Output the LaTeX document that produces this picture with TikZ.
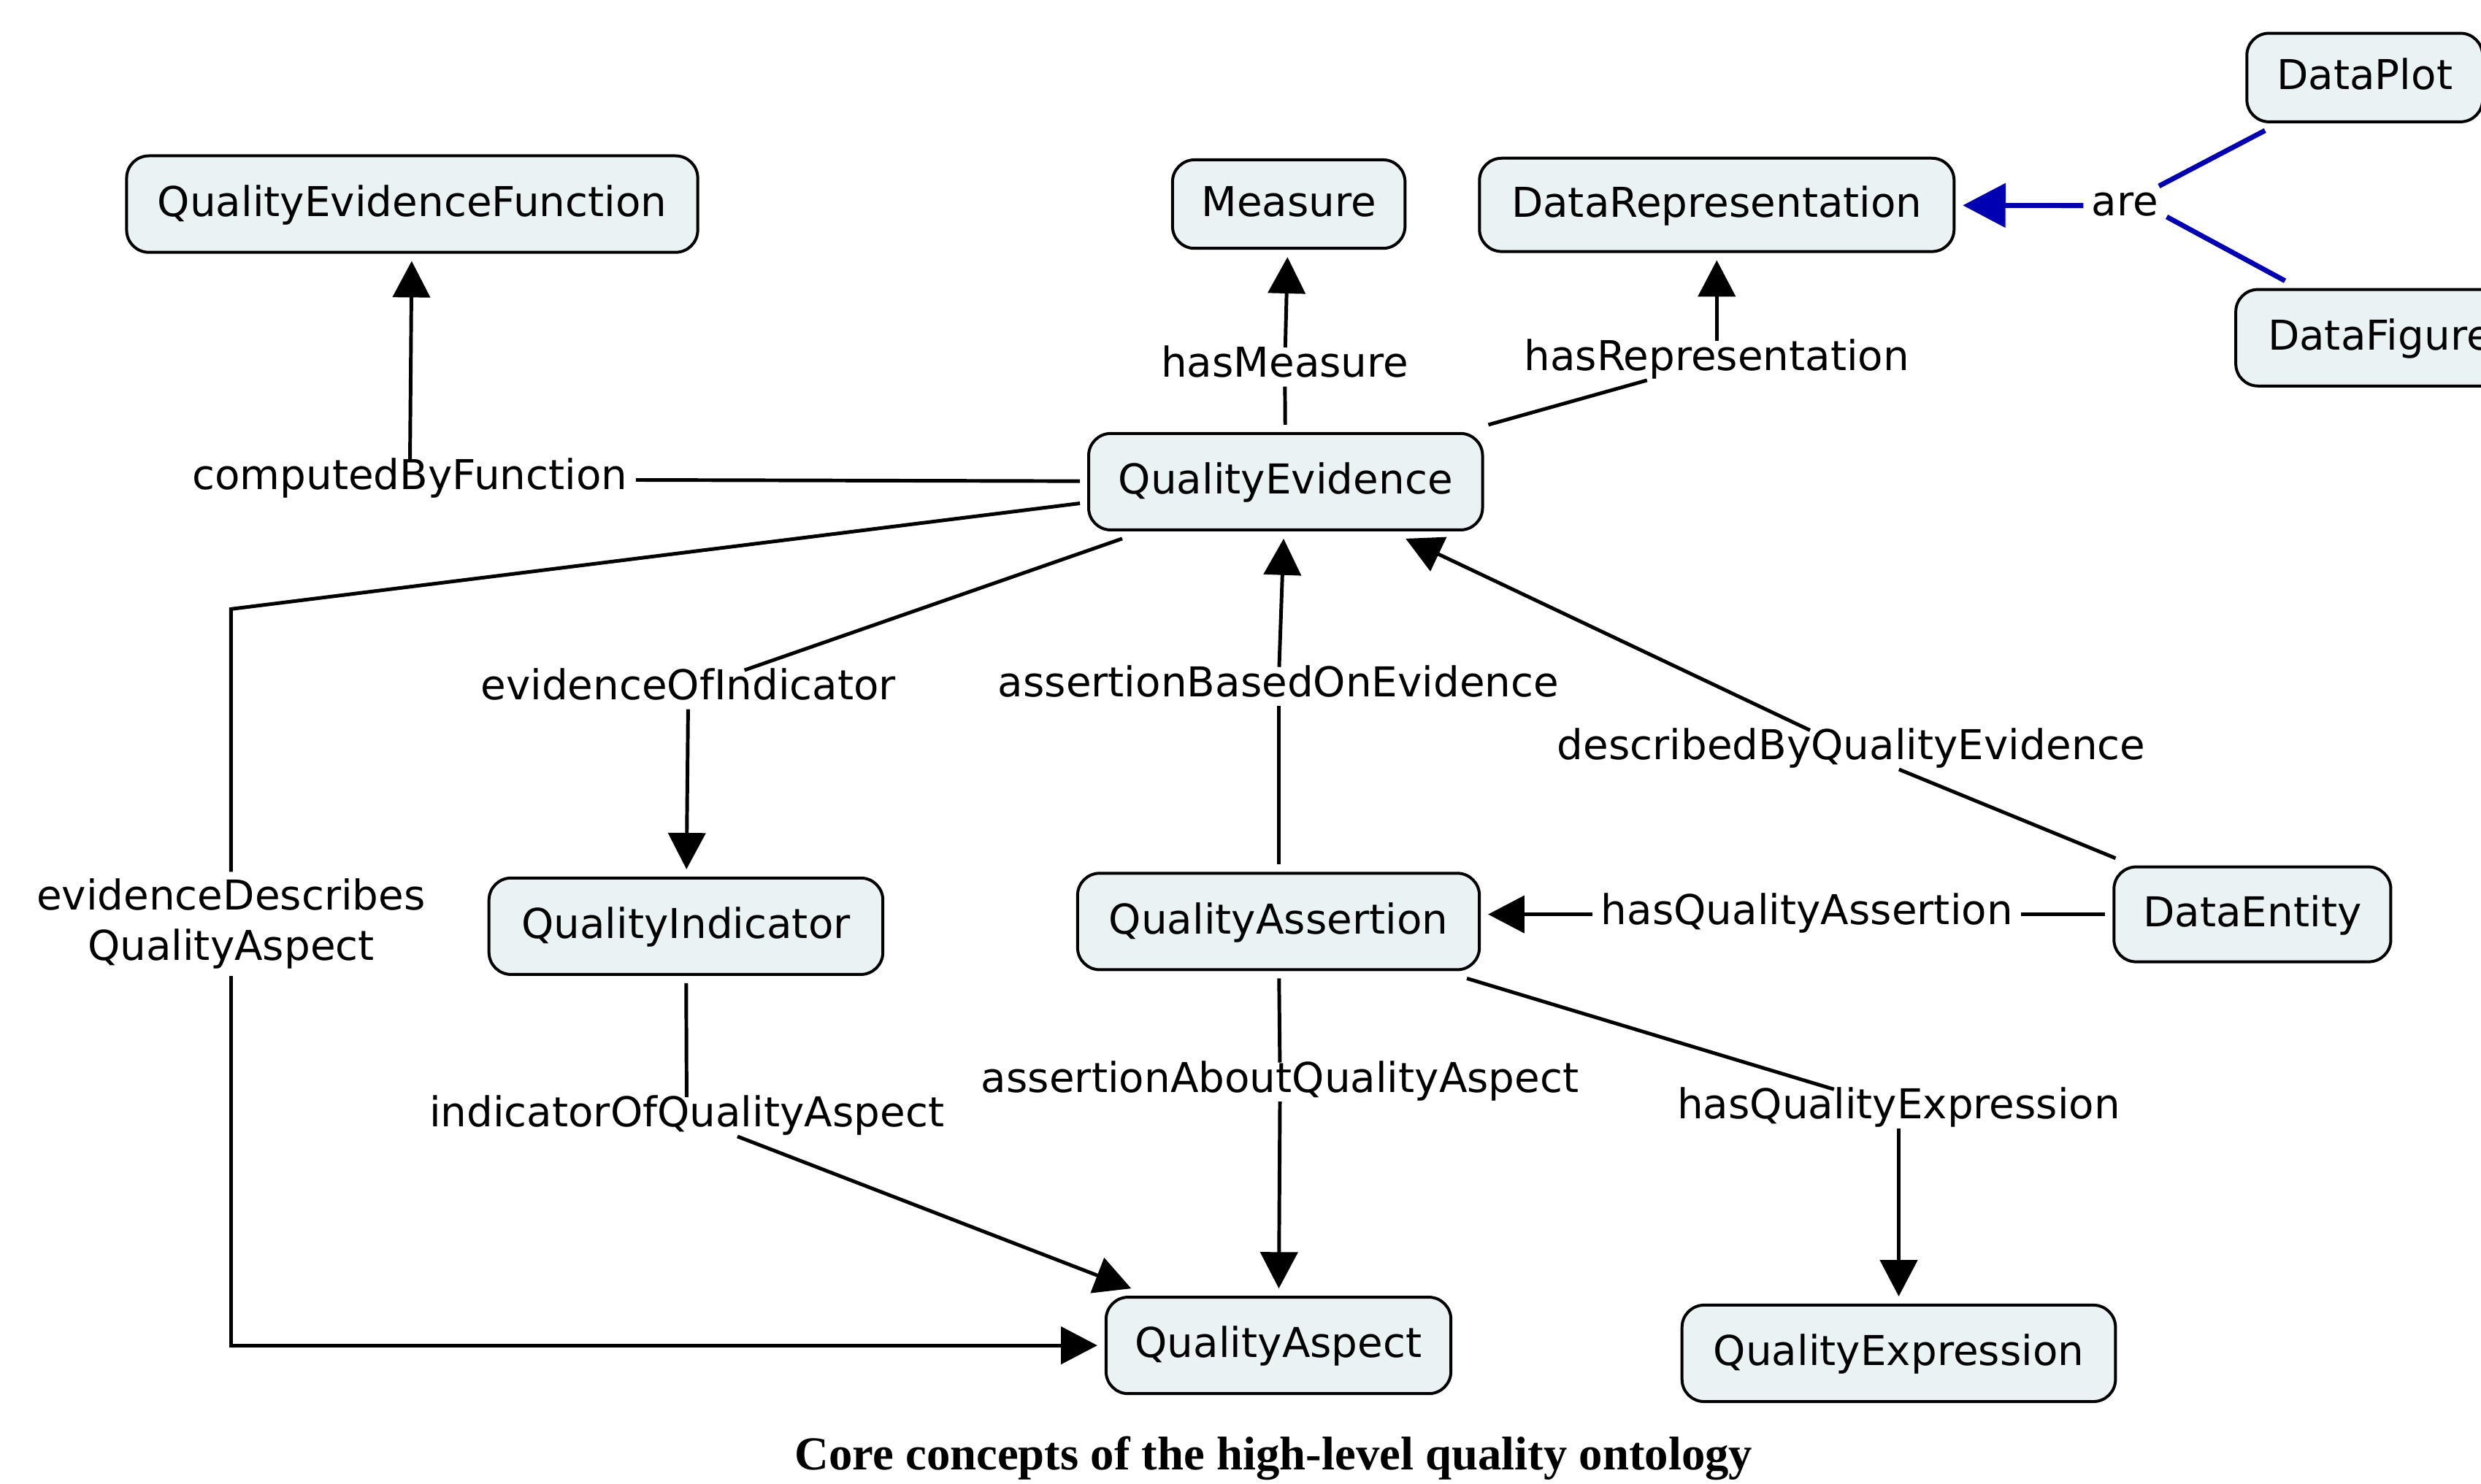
\documentclass[tikz,border=0pt]{standalone}
\usepackage{fontspec}
\setmainfont{DejaVu Sans}
\newfontfamily\capfont{Liberation Serif}
\usetikzlibrary{arrows.meta}
\definecolor{boxfill}{RGB}{235,242,244}
\definecolor{arblue}{RGB}{0,0,178}
\begin{document}
\begin{tikzpicture}[x=0.02cm,y=-0.02cm,
  concept/.style={draw=black, line width=1.05pt, fill=boxfill, rounded corners=0.28cm,
    minimum height=1.22cm, inner sep=0pt, outer sep=0.11cm,
    font=\fontsize{14.8pt}{17pt}\selectfont, text height=0.88em, text depth=0em},
  lbl/.style={inner sep=0.1cm, font=\fontsize{14.8pt}{17pt}\selectfont,
    text height=0.76em, text depth=0.04em},
  lbltwo/.style={inner sep=0.08cm, font=\fontsize{14.8pt}{18.2pt}\selectfont, align=center},
  conn/.style={line width=1.3pt, draw=black},
  arr/.style={conn, -{Triangle[length=0.46cm,width=0.47cm]}},
  bconn/.style={line width=1.8pt, draw=arblue},
  barr/.style={bconn, -{Triangle[length=0.54cm,width=0.55cm]}}
]
\useasboundingbox (0,0) rectangle (1568,938);
\clip (0,0) rectangle (1568,938);

% concept nodes
\node[concept, minimum width=7.22cm] (QEF) at (260.5,129) {QualityEvidenceFunction};
\node[concept, minimum width=2.94cm, minimum height=1.12cm] (M) at (814.5,129) {Measure};
\node[concept, minimum width=6.0cm, minimum height=1.18cm] (DR) at (1085,129.5) {DataRepresentation};
\node[concept, minimum width=2.98cm, minimum height=1.12cm] (DP) at (1494.5,49) {DataPlot};
\node[concept, minimum width=3.64cm] (DF) at (1504,213.5) {DataFigure};
\node[concept, minimum width=4.98cm] (QE) at (812.5,304.5) {QualityEvidence};
\node[concept, minimum width=4.98cm] (QI) at (433.5,585.5) {QualityIndicator};
\node[concept, minimum width=5.08cm] (QA) at (808,582.5) {QualityAssertion};
\node[concept, minimum width=3.5cm, minimum height=1.2cm] (DE) at (1423.5,578) {DataEntity};
\node[concept, minimum width=4.36cm] (QAsp) at (808,850.5) {QualityAspect};
\node[concept, minimum width=5.48cm] (QX) at (1200,855.5) {QualityExpression};

% link labels
\node[lbl] (hm) at (812,232) {hasMeasure};
\node[lbl] (hr) at (1085,228) {hasRepresentation};
\node[lbl] (are) at (1343,130) {are};
\node[lbl] (cbf) at (259,303) {computedByFunction};
\node[lbl] (eoi) at (435,436) {evidenceOfIndicator};
\node[lbl] (abe) at (808,434) {assertionBasedOnEvidence};
\node[lbl] (dbq) at (1170,474) {describedByQualityEvidence};
\node[lbltwo] (edq) at (146,584) {evidenceDescribes\\QualityAspect};
\node[lbl] (hqa) at (1142,578) {hasQualityAssertion};
\node[lbl] (ioq) at (434,706) {indicatorOfQualityAspect};
\node[lbl] (aaq) at (809,684) {assertionAboutQualityAspect};
\node[lbl] (hqe) at (1200,701) {hasQualityExpression};
\coordinate (c1) at (146,385);

% connectors
\draw[conn] (QE) -- (cbf);
\draw[arr] (cbf) -- (QEF);
\draw[conn] (QE) -- (hm);
\draw[arr] (hm) -- (M);
\draw[conn] (QE) -- (hr);
\draw[arr] (hr) -- (DR);
\draw[barr] (are) -- (DR);
\draw[bconn] (are.30) -- (DP.208);
\draw[bconn] (are.-15) -- (DF.149);
\draw[conn] (QE) -- (eoi);
\draw[arr] (eoi) -- (QI);
\draw[conn] (QA) -- (abe);
\draw[arr] (abe) -- (QE);
\draw[conn] (DE) -- (dbq);
\draw[arr] (dbq) -- (QE);
\draw[conn] (QE.186) -- (c1) -- (edq);
\draw[arr] (edq) |- (QAsp);
\draw[conn] (DE) -- (hqa);
\draw[arr] (hqa) -- (QA.east |- hqa);
\draw[conn] (QI) -- (ioq);
\draw[arr] (ioq) -- (QAsp);
\draw[conn] (QA) -- (aaq);
\draw[arr] (aaq) -- (QAsp);
\draw[conn] (QA) -- (hqe);
\draw[arr] (hqe) -- (QX);

% caption
\node[font=\capfont\bfseries\fontsize{17pt}{20pt}\selectfont, anchor=base, inner sep=0pt] (cap) at (805,929) {Core concepts of the high-level quality ontology};
\end{tikzpicture}
\end{document}
